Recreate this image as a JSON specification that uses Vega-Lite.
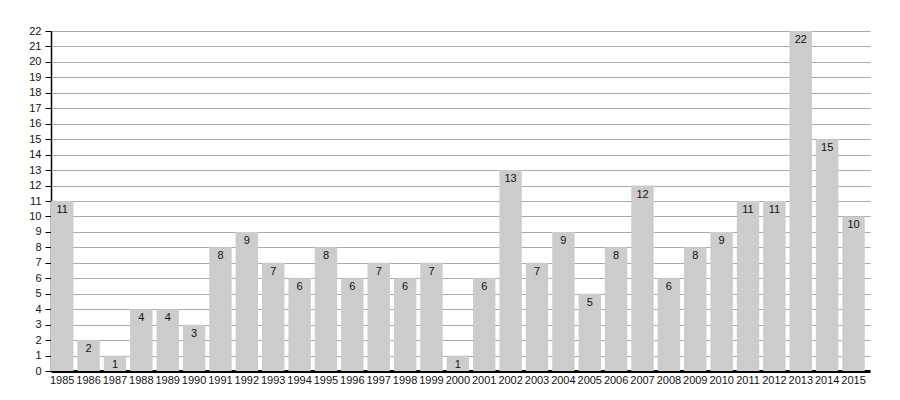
{
  "$schema": "https://vega.github.io/schema/vega-lite/v6.json",
  "autosize": "none",
  "width": 819,
  "height": 340,
  "padding": {"left": 51, "top": 31, "right": 30, "bottom": 29},
  "background": "white",
  "config": {
    "view": {"stroke": null},
    "font": "Liberation Sans"
  },
  "data": {
    "values": [
      {"year": "1985", "count": 11}, {"year": "1986", "count": 2}, {"year": "1987", "count": 1},
      {"year": "1988", "count": 4}, {"year": "1989", "count": 4}, {"year": "1990", "count": 3},
      {"year": "1991", "count": 8}, {"year": "1992", "count": 9}, {"year": "1993", "count": 7},
      {"year": "1994", "count": 6}, {"year": "1995", "count": 8}, {"year": "1996", "count": 6},
      {"year": "1997", "count": 7}, {"year": "1998", "count": 6}, {"year": "1999", "count": 7},
      {"year": "2000", "count": 1}, {"year": "2001", "count": 6}, {"year": "2002", "count": 13},
      {"year": "2003", "count": 7}, {"year": "2004", "count": 9}, {"year": "2005", "count": 5},
      {"year": "2006", "count": 8}, {"year": "2007", "count": 12}, {"year": "2008", "count": 6},
      {"year": "2009", "count": 8}, {"year": "2010", "count": 9}, {"year": "2011", "count": 11},
      {"year": "2012", "count": 11}, {"year": "2013", "count": 22}, {"year": "2014", "count": 15},
      {"year": "2015", "count": 10}
    ]
  },
  "encoding": {
    "x": {
      "field": "year", "type": "ordinal", "sort": null,
      "scale": {"paddingInner": 0.15, "paddingOuter": 0.1, "align": 0},
      "axis": {
        "title": null, "labelAngle": 0, "ticks": false, "labelPadding": 3,
        "labelFontSize": 11, "labelColor": "#111", "labelFont": "Liberation Sans",
        "domainColor": "#000", "domainWidth": 3, "grid": false
      }
    },
    "y": {
      "field": "count", "type": "quantitative",
      "scale": {"domain": [0, 22], "nice": false},
      "axis": {
        "title": null, "values": [0,1,2,3,4,5,6,7,8,9,10,11,12,13,14,15,16,17,18,19,20,21,22],
        "labelFontSize": 11, "labelColor": "#111", "labelFont": "Liberation Sans",
        "tickSize": 6, "tickColor": "#000", "labelPadding": 4,
        "domainColor": "#000", "domainWidth": 1.5,
        "grid": true, "gridColor": "#aaaaaa", "gridWidth": 1, "gridOpacity": 1
      }
    }
  },
  "layer": [
    {"mark": {"type": "bar", "color": "#cccccc"}},
    {
      "mark": {"type": "text", "baseline": "top", "dy": 3, "fontSize": 11, "color": "#111", "font": "Liberation Sans"},
      "encoding": {"text": {"field": "count", "type": "quantitative"}}
    }
  ]
}
